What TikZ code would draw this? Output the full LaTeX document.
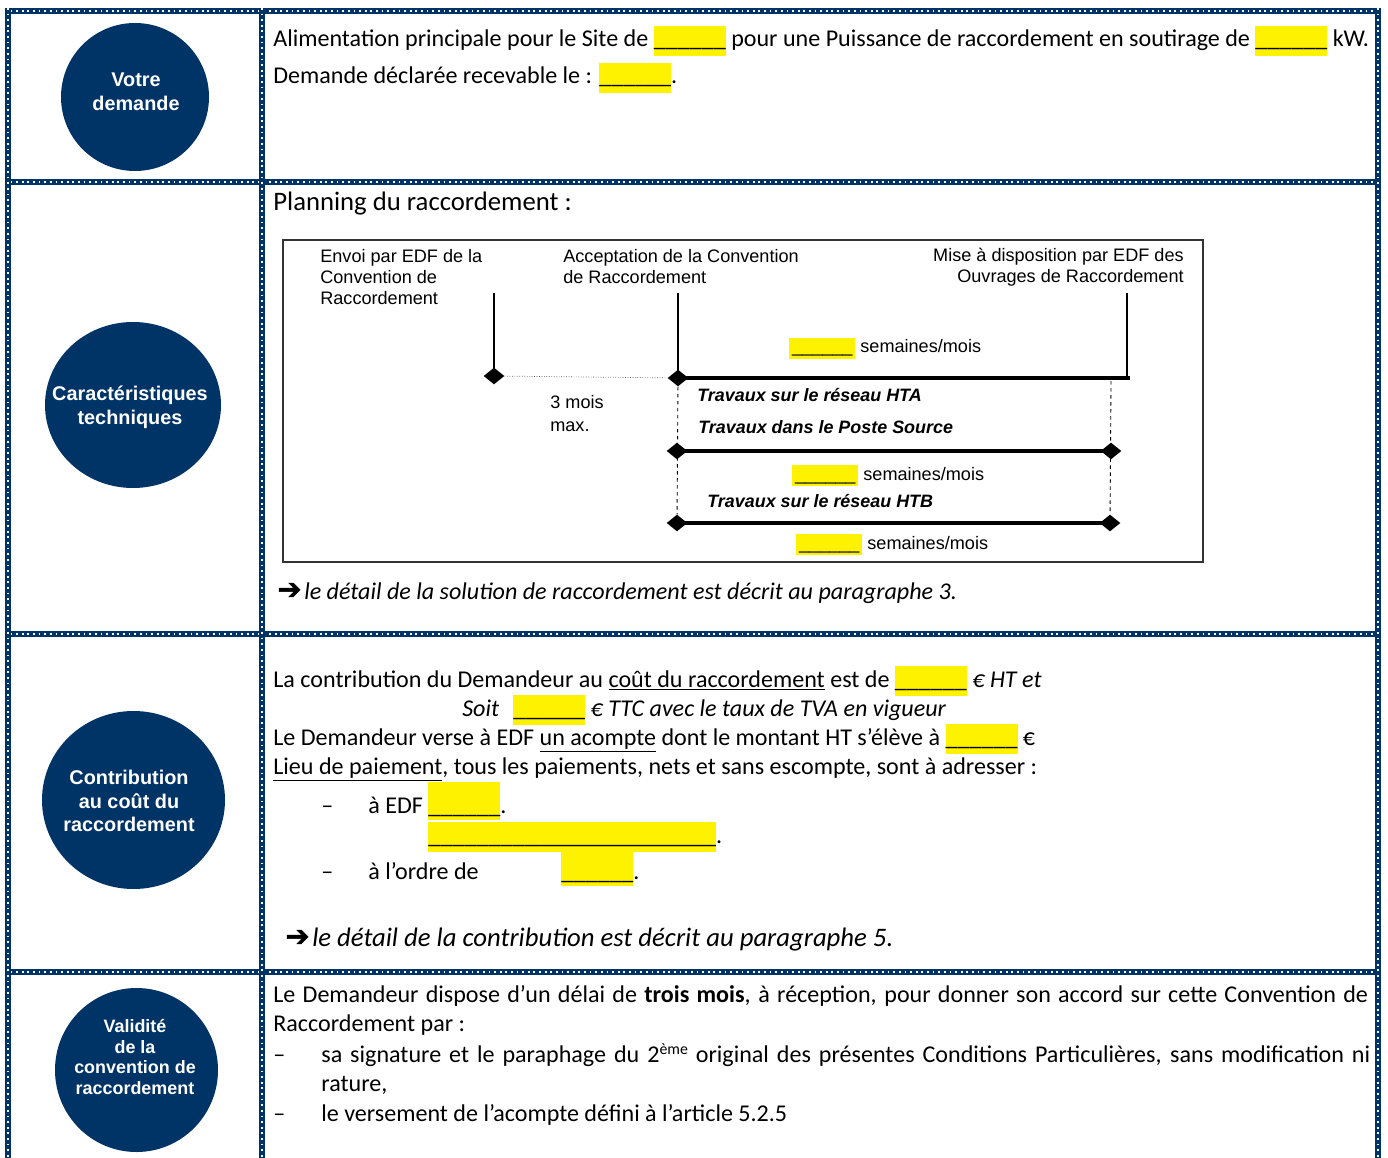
\documentclass[tikz,border=0pt]{standalone}
\usepackage{fontspec}
\setmainfont{Carlito}
\newfontfamily\arial{Liberation Sans}
\newfontfamily\fleches[FakeBold=1.5]{DejaVu Sans}
\usetikzlibrary{shapes.geometric}

\newcommand{\trou}[1]{{\setlength{\fboxsep}{0pt}\colorbox{yellow}{\strut#1}}}
\newcommand{\troudiag}[1]{{\setlength{\fboxsep}{0pt}\colorbox{yellow}{\strut\hspace{1.6pt}#1\hspace{1.6pt}}}}
\newcommand{\grandtrou}[1]{{\setlength{\fboxsep}{0pt}\colorbox{yellow}{\rule[-4pt]{0pt}{21.6pt}#1}}}
\newcommand{\fleche}{{\upshape\fleches\fontsize{16.5}{16.5}\selectfont ➔}}

\begin{document}
\begin{tikzpicture}[x=0.02cm,y=-0.02cm,
  cadre/.style={line width=3.4pt,color=bleuedf},
  hachure/.style={line width=0.6pt,white,dash pattern=on 1pt off 2.2pt},
  pastille/.style={text=white,align=center,inner sep=0pt,font=\arial\bfseries\fontsize{11.3}{13.6}\selectfont},
  corps/.style={anchor=base west,inner sep=0pt,font=\fontsize{13.7}{16.7}\selectfont},
  etiq/.style={anchor=base west,inner sep=0pt,font=\arial\fontsize{10.3}{12.2}\selectfont},
  travaux/.style={etiq,font=\arial\bfseries\itshape\fontsize{10.2}{12.2}\selectfont},
  jalon/.style={line width=1.2pt},
  phase/.style={line width=2.8pt},
  borne/.style={diamond,fill=black,inner sep=0pt,minimum width=11.9pt,minimum height=9.6pt},
  pointille/.style={densely dotted,line width=0.4pt,black!70},
  tirets/.style={dash pattern=on 2pt off 2pt,line width=0.5pt}]

  \definecolor{bleuedf}{RGB}{0,51,102}

  \useasboundingbox (0,0) rectangle (1388,1158);
  \fill[white] (0,0) rectangle (1388,1158);

  % cadre du tableau
  \foreach \y in {11,182,634,972} {
    \draw[cadre] (5,\y) -- (1381,\y);
    \draw[hachure] (5,\y) -- (1381,\y);
  }
  \foreach \x in {8,262,1378} {
    \draw[cadre] (\x,8) -- (\x,1158);
    \draw[hachure] (\x,8) -- (\x,1158);
  }

  % pastilles
  \fill[bleuedf] (135,97) ellipse [x radius=74,y radius=74];
  \fill[bleuedf] (133,405) ellipse [x radius=88,y radius=83];
  \fill[bleuedf] (133.5,800) ellipse [x radius=91.5,y radius=89];
  \fill[bleuedf] (136.5,1070) ellipse [x radius=81.5,y radius=82];

  \node[pastille] (demande) at (136,92) {Votre\\demande};
  \node[pastille] (caract) at (130,407) {Caractéristiques\\techniques};
  \node[pastille] (contrib) at (129,801) {Contribution\\au coût du\\raccordement};
  \node[pastille,font=\arial\bfseries\fontsize{10.2}{11.9}\selectfont] (validite) at (135,1057)
    {Validité\\de la\\convention de\\raccordement};

  % votre demande
  \node[corps] (alim) at (273,47) {Alimentation principale pour le Site de \trou{\_\_\_\_\_\_} pour une Puissance de raccordement en soutirage de \trou{\_\_\_\_\_\_} kW.};
  \node[corps] (recev) at (273,84) {Demande déclarée recevable le : \trou{\_\_\_\_\_\_}.};

  % planning
  \node[corps,font=\fontsize{15.2}{18}\selectfont] (planning) at (273,211) {Planning du raccordement :};
  \draw[line width=0.6pt,black!80] (283,240) rectangle (1203,562);

  \node[etiq,align=left] (envoi) at (320,305) {Envoi par EDF de la\\Convention de\\Raccordement};
  \node[etiq,align=left] (accept) at (563,284) {Acceptation de la Convention\\de Raccordement};
  \node[etiq,anchor=base east,align=right] (mise) at (1184,283) {Mise à disposition par EDF des\\Ouvrages de Raccordement};
  \node[etiq,align=left,font=\arial\fontsize{10.3}{13}\selectfont] (max) at (550,431) {3 mois\\max.};

  \coordinate (j1) at (494,293);
  \coordinate (j2) at (678,293);
  \coordinate (j3) at (1127,293);
  \coordinate (f3) at (1127,378);
  \coordinate (f1) at (1130,378);
  \coordinate (h1) at (1111,381);

  \node[borne] (d1) at (494,376) {};
  \node[borne] (d2) at (678,378) {};
  \node[borne] (d3) at (677,451) {};
  \node[borne] (d4) at (1111,451) {};
  \node[borne] (d5) at (677,523) {};
  \node[borne] (d6) at (1110,523) {};

  \draw[jalon] (j1) -- (d1.center);
  \draw[jalon] (j2) -- (d2.center);
  \draw[jalon] (j3) -- (f3);
  \draw[pointille] (d1) -- (d2);
  \draw[phase] (d2.center) -- (f1);
  \draw[phase] (d3.center) -- (d4.center);
  \draw[phase] (d5.center) -- (d6.center);
  \draw[tirets] (d2) -- (d5);
  \draw[tirets] (h1) -- (d6);

  \node[travaux] (hta) at (697,401) {Travaux sur le réseau HTA};
  \node[travaux] (poste) at (698,433) {Travaux dans le Poste Source};
  \node[travaux] (htb) at (707,507) {Travaux sur le réseau HTB};

  \node[etiq] (duree1) at (789,353) {\troudiag{\_\_\_\_\_\_} semaines/mois};
  \node[etiq] (duree2) at (792,480) {\troudiag{\_\_\_\_\_\_} semaines/mois};
  \node[etiq] (duree3) at (796,549) {\troudiag{\_\_\_\_\_\_} semaines/mois};

  \node[corps,font=\itshape\fontsize{13.7}{16.7}\selectfont] (renvoi3) at (277,599)
    {\fleche\hspace{1.5pt}le détail de la solution de raccordement est décrit au paragraphe 3.};

  % contribution
  \node[corps] (cout) at (273,687) {La contribution du Demandeur au \underline{coût du raccordement} est de \trou{\_\_\_\_\_\_} \textit{€ HT et}};
  \node[corps] (soit) at (462,716) {\textit{Soit}\hspace{8pt}\trou{\_\_\_\_\_\_} \textit{€ TTC avec le taux de TVA en vigueur}};
  \node[corps] (acompte) at (273,745) {Le Demandeur verse à EDF \underline{un acompte} dont le montant HT s’élève à \trou{\_\_\_\_\_\_} €};
  \node[corps] (lieu) at (273,774) {\underline{Lieu de paiement}, tous les paiements, nets et sans escompte, sont à adresser :};
  \node[corps] (tiret1) at (321,813) {–};
  \node[corps] (edf) at (368,813) {à EDF \grandtrou{\_\_\_\_\_\_}.};
  \node[corps] (adresse) at (428,843) {\trou{\_\_\_\_\_\_\_\_\_\_\_\_\_\_\_\_\_\_\_\_\_\_\_\_}.};
  \node[corps] (tiret2) at (321,879) {–};
  \node[corps] (ordre) at (368,879) {à l’ordre de};
  \node[corps] (beneficiaire) at (561,879) {\grandtrou{\_\_\_\_\_\_}.};
  \node[corps,font=\itshape\fontsize{15.2}{18}\selectfont] (renvoi5) at (285,946)
    {\fleche\hspace{1.5pt}le détail de la contribution est décrit au paragraphe 5.};

  % validite
  \node[corps,text width=623pt,align=justify] (delai) at (273,1002)
    {Le Demandeur dispose d’un délai de \textbf{trois mois}, à réception, pour donner son accord sur cette Convention de\linebreak Raccordement par :};
  \node[corps] (tiret3) at (273,1062) {–};
  \node[corps,text width=597pt,align=justify] (signature) at (321,1062)
    {sa signature et le paraphage du 2{\fontsize{9}{9}\selectfont\raisebox{4.5pt}{ème}} original des présentes Conditions Particulières, sans modification ni\linebreak rature,};
  \node[corps] (tiret4) at (273,1121) {–};
  \node[corps] (versement) at (321,1121) {le versement de l’acompte défini à l’article 5.2.5};

\end{tikzpicture}
\end{document}
